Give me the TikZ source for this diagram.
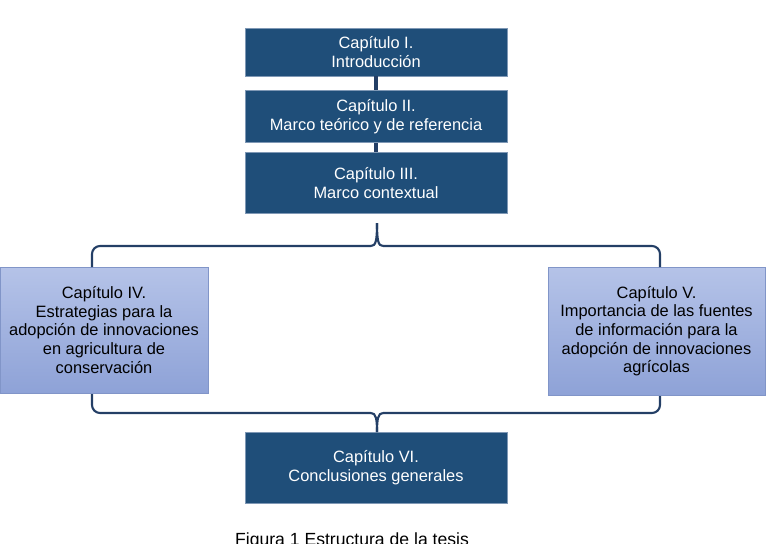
\documentclass[tikz,border=0pt]{standalone}
\usepackage{fontspec}
\setmainfont{Liberation Sans}
\usepackage{xcolor}
\usetikzlibrary{positioning}
\definecolor{TesisDark}{HTML}{1F4E79}
\definecolor{TesisEdge}{HTML}{7F98B5}
\definecolor{TesisLightTop}{HTML}{B5C3E8}
\definecolor{TesisLightBot}{HTML}{8EA2D7}
\definecolor{TesisLightEdge}{HTML}{8195C8}
\definecolor{TesisNavy}{HTML}{243F66}

\begin{document}
\begin{tikzpicture}[
  x=0.75pt,y=-0.75pt,
  every node/.style={font=\fontsize{12.3pt}{14pt}\selectfont,align=center,inner sep=0pt},
  chap/.style={draw=TesisEdge,line width=0.6pt,fill=TesisDark,text=white,minimum width=196.5pt},
  side/.style={draw=TesisLightEdge,line width=0.6pt,top color=TesisLightTop,bottom color=TesisLightBot,text=black},
  link/.style={draw=TesisNavy,line width=3pt},
  brace/.style={draw=TesisNavy,line width=1.6pt,rounded corners=6pt}
]
\useasboundingbox (0,0) rectangle (767,543);
\node[chap,minimum height=36pt] (ch1) at (376,52) {Capítulo I.\\Introducción};
\node[chap,minimum height=39pt,below=10.5pt of ch1] (ch2) {Capítulo II.\\Marco teórico y de referencia};
\node[chap,minimum height=45.75pt,below=6.75pt of ch2] (ch3) {Capítulo III.\\Marco contextual};
\node[side,minimum width=156pt,minimum height=94.5pt] (ch4) at (104,330) {Capítulo IV.\\Estrategias para la\\adopción de innovaciones\\en agricultura de\\conservación};
\node[side,minimum width=162.75pt,minimum height=96pt] (ch5) at (656.5,331) {Capítulo V.\\Importancia de las fuentes\\de información para la\\adopción de innovaciones\\agrícolas};
\node[chap,minimum height=53.25pt] (ch6) at (376,467.5) {Capítulo VI.\\Conclusiones generales};
\node[anchor=base,font=\fontsize{13.2pt}{15pt}\selectfont] (cap) at (352,545) {Figura 1 Estructura de la tesis};
% stack
\draw[link] (ch1) -- (ch2);
\draw[link] (ch2) -- (ch3);
% upper brace
\coordinate (topTip) at (377,223);
\draw[brace] (92,267) -- (92,246) -- (371,246);
\draw[brace] (660,267) -- (660,246) -- (383,246);
\draw[brace] (371,246) .. controls (376,246) and (377,240) .. (topTip);
\draw[brace] (383,246) .. controls (378,246) and (377,240) .. (topTip);
% lower brace
\coordinate (lowTip) at (377,432);
\draw[brace] (92,394) -- (92,413) -- (371,413);
\draw[brace] (660,396) -- (660,413) -- (383,413);
\draw[brace] (371,413) .. controls (376,413) and (377,419) .. (lowTip);
\draw[brace] (383,413) .. controls (378,413) and (377,419) .. (lowTip);
\end{tikzpicture}
\end{document}
